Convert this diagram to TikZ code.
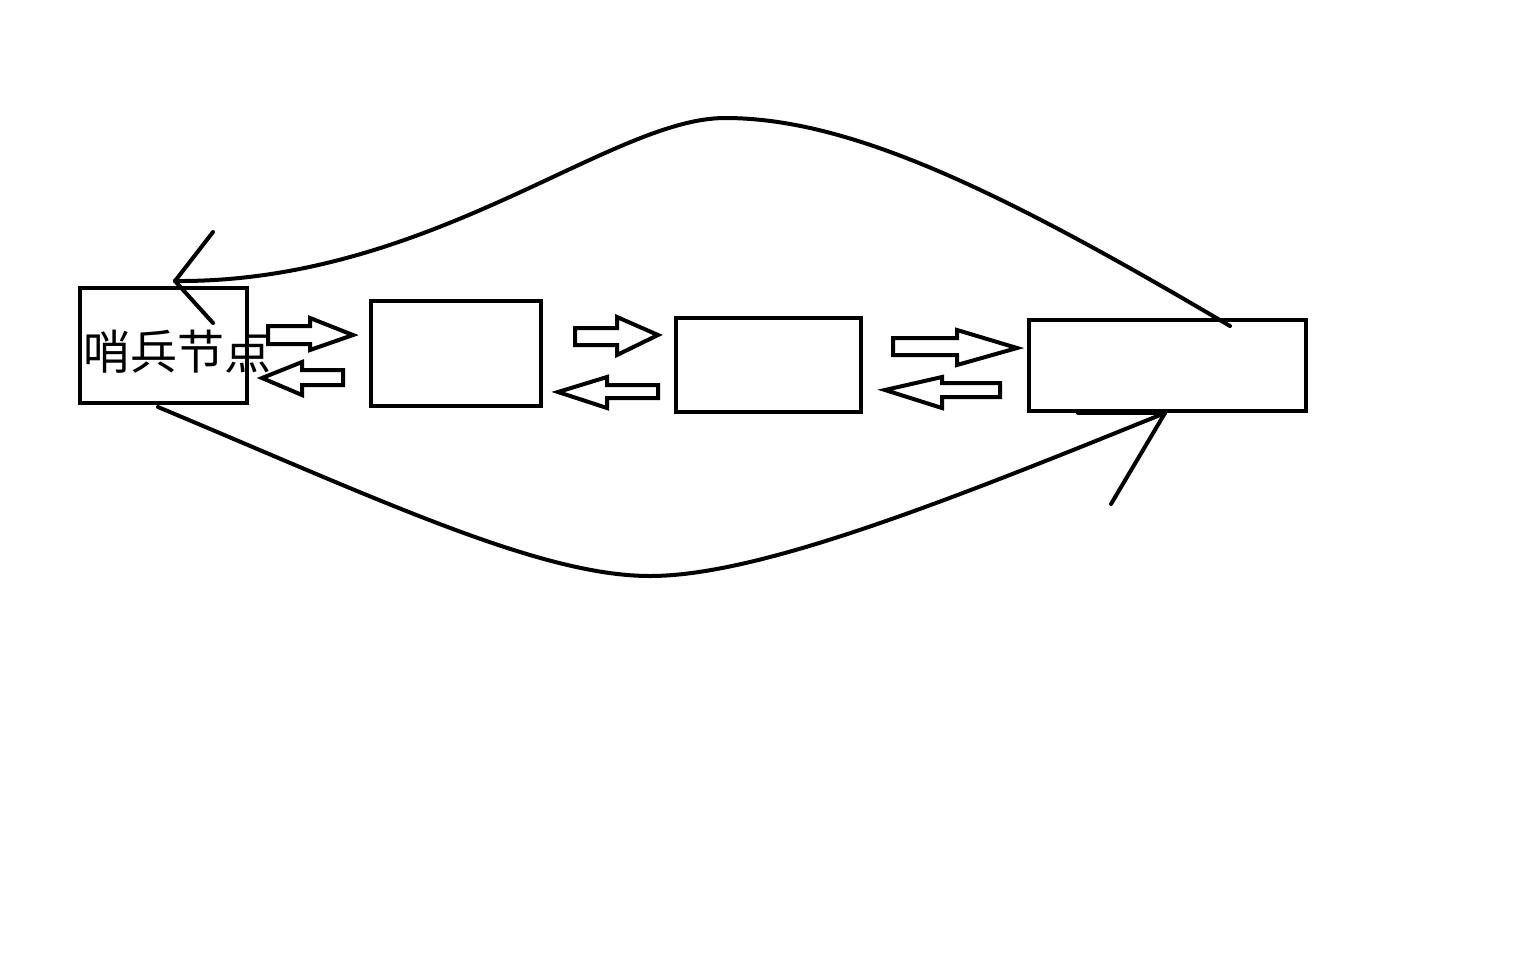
\documentclass[tikz,border=0pt]{standalone}
\usepackage{fontspec}
\newfontfamily\cjkfont{Noto Sans CJK SC}

% block arrow: tail x, head base x, tip x, tip y, shaft top, shaft bottom, head top, head bottom
\newcommand{\blockarrow}[8]{%
	\draw [hollow] (#1, #5) -- (#2, #5) -- (#2, #7) -- (#3, #4) -- (#2, #8) -- (#2, #6) -- (#1, #6) -- cycle;%
}

\begin{document}
\begin{tikzpicture}
	[
		x=0.5pt, y=-0.5pt,
		box/.style = {shape=rectangle, draw=black, line width=2pt, anchor=center, inner sep=0pt},
		hollow/.style = {draw=black, fill=white, line width=2pt, line join=miter},
		wire/.style = {draw=black, line width=2pt, line cap=round}
	]
	
	\fill [white] (0, 0) rectangle (1536, 960);
	\useasboundingbox (0, 0) rectangle (1536, 960);
	
	% list nodes
	\node [box, minimum width=83.5pt, minimum height=57.5pt] (sentinel) at (163.5, 345.5) {};
	\node [box, minimum width=85pt, minimum height=52.5pt] (second) at (456, 353.5) {};
	\node [box, minimum width=92.5pt, minimum height=47pt] (third) at (768.5, 365) {};
	\node [box, minimum width=138.5pt, minimum height=45.5pt] (fourth) at (1167.5, 365.5) {};
	
	\node [inner sep=0pt, font=\cjkfont\fontsize{23.5pt}{24pt}\selectfont] (label) at (177, 352) {哨兵节点};
	
	% links between neighbours
	\blockarrow{268}{310}{353}{335}{326}{344}{318}{350}
	\blockarrow{343}{302}{262}{378}{370}{385}{362}{395}
	\blockarrow{575}{617}{658}{335}{328}{345}{317}{355}
	\blockarrow{658}{607}{558}{392}{385}{398}{377}{408}
	\blockarrow{893}{957}{1017}{348}{338}{355}{330}{365}
	\blockarrow{1000}{942}{885}{390}{383}{397}{377}{408}
	
	% links between head and tail
	\coordinate (tailtop) at (1230, 326);
	\coordinate (headtop) at (175, 281);
	\coordinate (headbot) at (158, 407);
	\coordinate (tailbot) at (1165, 413);
	
	\draw [wire] (tailtop) .. controls (1000, 190) and (850, 118) .. (725, 118)
		.. controls (610, 118) and (430, 283) .. (headtop);
	\draw [wire] (headtop) -- ++(38, -49);
	\draw [wire] (headtop) -- ++(38, 42);
	
	\draw [wire] (headbot) .. controls (380, 500) and (540, 576) .. (650, 576)
		.. controls (760, 576) and (950, 500) .. (tailbot);
	\draw [wire] (tailbot) -- ++(-87, 0);
	\draw [wire] (tailbot) -- ++(-54, 91);
	
\end{tikzpicture}
\end{document}
